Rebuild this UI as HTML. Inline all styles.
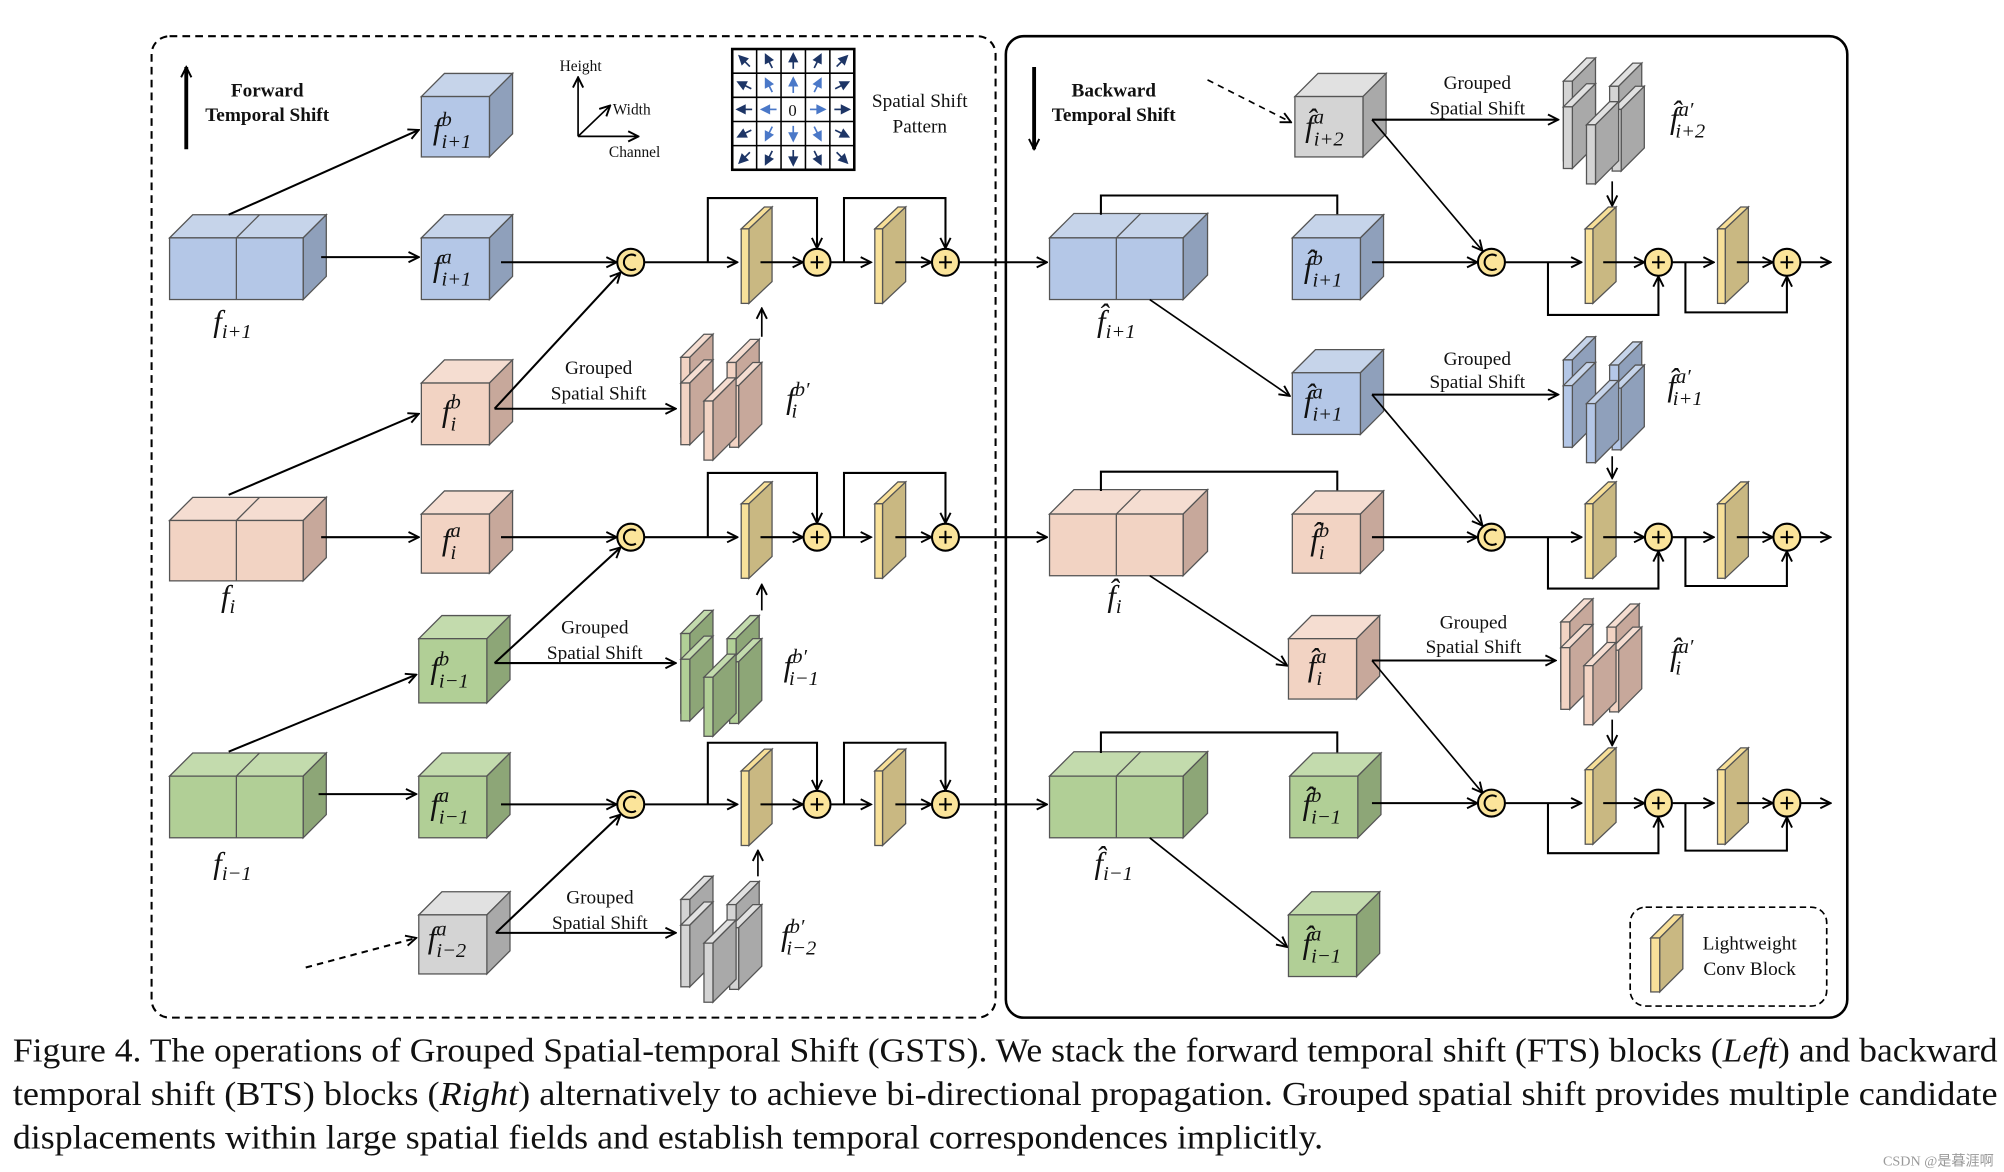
<!DOCTYPE html>
<html><head><meta charset="utf-8">
<style>
html,body{margin:0;padding:0;background:#fff;}
svg{display:block;}
text{font-family:"Liberation Serif",serif;fill:#111;}
.m{font-style:italic;font-size:24px;}
.m tspan{font-size:16px;}
.s{font-size:15px;}
.b{font-weight:bold;font-size:15px;}
.cap{font-size:26px;}
</style></head>
<body>
<svg id="svg" width="2004" height="1172" viewBox="0 0 1560 912" xmlns="http://www.w3.org/2000/svg">
<defs>
<marker id="ah" markerWidth="10" markerHeight="10" refX="9" refY="5" orient="auto" markerUnits="userSpaceOnUse">
<path d="M1,1 L9,5 L1,9" fill="none" stroke="#000" stroke-width="1.5"/>
</marker>
</defs>
<rect x="118" y="28" width="657" height="764" rx="14" fill="none" stroke="#000" stroke-width="1.6" stroke-dasharray="6,4"/>
<rect x="783" y="28" width="655" height="764" rx="14" fill="none" stroke="#000" stroke-width="2"/>
<rect x="1269" y="706" width="153" height="77" rx="12" fill="none" stroke="#000" stroke-width="1.3" stroke-dasharray="5,3"/>
<g id="shapes"></g>
<g id="labels">
<text class="b" x="208" y="75" text-anchor="middle">Forward</text>
<text class="b" x="208" y="94" text-anchor="middle">Temporal Shift</text>
<text class="b" x="867" y="75" text-anchor="middle">Backward</text>
<text class="b" x="867" y="94" text-anchor="middle">Temporal Shift</text>
<text x="452" y="55" font-size="12" text-anchor="middle">Height</text>
<text x="477" y="89" font-size="12">Width</text>
<text x="494" y="122" font-size="12" text-anchor="middle">Channel</text>
<text class="s" x="716" y="83" text-anchor="middle">Spatial Shift</text>
<text class="s" x="716" y="103" text-anchor="middle">Pattern</text>
<text class="s" x="466" y="291" text-anchor="middle">Grouped</text><text class="s" x="466" y="311" text-anchor="middle">Spatial Shift</text>
<text class="s" x="463" y="493" text-anchor="middle">Grouped</text><text class="s" x="463" y="513" text-anchor="middle">Spatial Shift</text>
<text class="s" x="467" y="703" text-anchor="middle">Grouped</text><text class="s" x="467" y="723" text-anchor="middle">Spatial Shift</text>
<text class="s" x="1150" y="69" text-anchor="middle">Grouped</text><text class="s" x="1150" y="89" text-anchor="middle">Spatial Shift</text>
<text class="s" x="1150" y="284" text-anchor="middle">Grouped</text><text class="s" x="1150" y="302" text-anchor="middle">Spatial Shift</text>
<text class="s" x="1147" y="489" text-anchor="middle">Grouped</text><text class="s" x="1147" y="508" text-anchor="middle">Spatial Shift</text>
<text class="s" x="1362" y="739" text-anchor="middle">Lightweight</text>
<text class="s" x="1362" y="759" text-anchor="middle">Conv Block</text>

<!-- math labels -->
<text class="m" x="337" y="108">f<tspan dy="-10">b</tspan><tspan dx="-8" dy="17">i+1</tspan></text>
<text class="m" x="337" y="215">f<tspan dy="-10">a</tspan><tspan dx="-8" dy="17">i+1</tspan></text>
<text class="m" x="344" y="328">f<tspan dy="-10">b</tspan><tspan dx="-8" dy="17">i</tspan></text>
<text class="m" x="344" y="428">f<tspan dy="-10">a</tspan><tspan dx="-8" dy="17">i</tspan></text>
<text class="m" x="335" y="528">f<tspan dy="-10">b</tspan><tspan dx="-8" dy="17">i−1</tspan></text>
<text class="m" x="335" y="634">f<tspan dy="-10">a</tspan><tspan dx="-8" dy="17">i−1</tspan></text>
<text class="m" x="333" y="738">f<tspan dy="-10">a</tspan><tspan dx="-8" dy="17">i−2</tspan></text>
<text class="m" x="166" y="258" font-size="25">f<tspan font-size="17" dy="5">i+1</tspan></text>
<text class="m" x="172" y="472" font-size="25">f<tspan font-size="17" dy="5">i</tspan></text>
<text class="m" x="166" y="680" font-size="25">f<tspan font-size="17" dy="5">i−1</tspan></text>
<text class="m" x="612" y="318">f<tspan dy="-10">b′</tspan><tspan dx="-14" dy="17">i</tspan></text>
<text class="m" x="610" y="526">f<tspan dy="-10">b′</tspan><tspan dx="-14" dy="17">i−1</tspan></text>
<text class="m" x="608" y="736">f<tspan dy="-10">b′</tspan><tspan dx="-14" dy="17">i−2</tspan></text>

<text class="m" x="1016" y="106">f̂<tspan dy="-10">a</tspan><tspan dx="-8" dy="17">i+2</tspan></text>
<text class="m" x="1015" y="216">f̂<tspan dy="-10">b</tspan><tspan dx="-8" dy="17">i+1</tspan></text>
<text class="m" x="1015" y="320">f̂<tspan dy="-10">a</tspan><tspan dx="-8" dy="17">i+1</tspan></text>
<text class="m" x="1020" y="428">f̂<tspan dy="-10">b</tspan><tspan dx="-8" dy="17">i</tspan></text>
<text class="m" x="1018" y="526">f̂<tspan dy="-10">a</tspan><tspan dx="-8" dy="17">i</tspan></text>
<text class="m" x="1014" y="634">f̂<tspan dy="-10">b</tspan><tspan dx="-8" dy="17">i−1</tspan></text>
<text class="m" x="1014" y="742">f̂<tspan dy="-10">a</tspan><tspan dx="-8" dy="17">i−1</tspan></text>
<text class="m" x="1300" y="100">f̂<tspan dy="-10">a′</tspan><tspan dx="-14" dy="17">i+2</tspan></text>
<text class="m" x="1298" y="308">f̂<tspan dy="-10">a′</tspan><tspan dx="-14" dy="17">i+1</tspan></text>
<text class="m" x="1300" y="518">f̂<tspan dy="-10">a′</tspan><tspan dx="-14" dy="17">i</tspan></text>
<text class="m" x="854" y="258" font-size="25">f̂<tspan font-size="17" dy="5">i+1</tspan></text>
<text class="m" x="862" y="472" font-size="25">f̂<tspan font-size="17" dy="5">i</tspan></text>
<text class="m" x="852" y="680" font-size="25">f̂<tspan font-size="17" dy="5">i−1</tspan></text>

<text x="617" y="90" font-size="13" text-anchor="middle" font-family="Liberation Sans,sans-serif">0</text>

<text class="cap" x="10" y="826" textLength="1545" lengthAdjust="spacingAndGlyphs">Figure 4. The operations of Grouped Spatial-temporal Shift (GSTS). We stack the forward temporal shift (FTS) blocks (<tspan font-style="italic">Left</tspan>) and backward</text>
<text class="cap" x="10" y="860" textLength="1545" lengthAdjust="spacingAndGlyphs">temporal shift (BTS) blocks (<tspan font-style="italic">Right</tspan>) alternatively to achieve bi-directional propagation. Grouped spatial shift provides multiple candidate</text>
<text class="cap" x="10" y="894" textLength="1020" lengthAdjust="spacingAndGlyphs">displacements within large spatial fields and establish temporal correspondences implicitly.</text>
<text x="1552" y="907" font-size="11" text-anchor="end" font-family="Liberation Sans,'Noto Sans CJK SC',sans-serif" style="fill:#999">CSDN @是暮涯啊</text>
</g>
</svg>
<script>
var NS="http://www.w3.org/2000/svg",G=document.getElementById("shapes");
function el(t,a){var e=document.createElementNS(NS,t);for(var k in a)e.setAttribute(k,a[k]);G.appendChild(e);return e;}
var C={b:["#b4c7e7","#c6d4ea","#8fa0bb"],p:["#f2d3c3","#f5ddd1","#c7a89b"],g:["#b1cf96","#c3dbad","#8da677"],y:["#d4d4d4","#e1e1e1","#a9a9a9"],c:["#f8e19a","#f7df98","#c9b882"]};
function poly(p,f){el("polygon",{points:p.map(function(q){return q.join(",")}).join(" "),fill:f,stroke:"#555","stroke-width":1});}
function cube(x,y,w,h,d,c,split){var k=C[c];
poly([[x,y],[x+d,y-d],[x+w+d,y-d],[x+w,y]],k[1]);
poly([[x+w,y],[x+w+d,y-d],[x+w+d,y+h-d],[x+w,y+h]],k[2]);
el("rect",{x:x,y:y,width:w,height:h,fill:k[0],stroke:"#555","stroke-width":1});
if(split){el("line",{x1:x+w/2,y1:y,x2:x+w/2,y2:y+h,stroke:"#555"});el("line",{x1:x+w/2,y1:y,x2:x+w/2+d,y2:y-d,stroke:"#555"});}}
function slab(x,y,h,c,fw,d){fw=fw||7;d=d||18;var k=C[c];
poly([[x,y],[x+d,y-d],[x+d+fw,y-d],[x+fw,y]],k[1]);
poly([[x+fw,y],[x+fw+d,y-d],[x+fw+d,y+h-d],[x+fw,y+h]],k[2]);
el("rect",{x:x,y:y,width:fw,height:h,fill:k[0],stroke:"#555","stroke-width":1});}
function conv(x,y){
poly([[x,y],[x+18,y-17],[x+24,y-17],[x+6,y]],"#f7df98");
poly([[x+6,y],[x+24,y-17],[x+24,y+41],[x+6,y+58]],"#c9b882");
el("rect",{x:x,y:y,width:6,height:58,fill:"#f8e19a",stroke:"#555","stroke-width":1});}
function stack(sx,sy,c){slab(sx+2,sy+18,62,c);slab(sx+38,sy+22,56,c);slab(sx+2,sy+38,48,c);slab(sx+40,sy+40,48,c);slab(sx+20,sy+52,46,c);}
function L(x1,y1,x2,y2,arr,dash,w){var a={x1:x1,y1:y1,x2:x2,y2:y2,stroke:"#000","stroke-width":w||1.6};if(arr)a["marker-end"]="url(#ah)";if(dash)a["stroke-dasharray"]="5,4";el("line",a);}
function P(pts,arr){var a={points:pts.map(function(q){return q.join(",")}).join(" "),fill:"none",stroke:"#000","stroke-width":1.6};if(arr)a["marker-end"]="url(#ah)";el("polyline",a);}
function circ(x,y,t){el("circle",{cx:x,cy:y,r:10.5,fill:"#fbe49a",stroke:"#000","stroke-width":1.6});
if(t=="c"){el("path",{d:"M"+(x+4)+","+(y-5)+" A6,6 0 1 0 "+(x+4)+","+(y+5),fill:"none",stroke:"#000","stroke-width":1.6});}
else{L(x-5,y,x+5,y,0,0,1.5);L(x,y-5,x,y+5,0,0,1.5);}}
function leftRow(cy,top){
L(390,cy,480,cy,1);circ(491,cy,"c");
L(502,cy,574,cy,1);P([[551,cy],[551,top],[636,top],[636,cy-11]],1);
conv(577,cy-26);L(592,cy,625,cy,1);circ(636,cy,"p");
L(647,cy,678,cy,1);P([[657,cy],[657,top],[736,top],[736,cy-11]],1);
conv(681,cy-26);L(697,cy,725,cy,1);circ(736,cy,"p");
L(747,cy,815,cy,1);}
function rightRow(cy,bot){
L(1068,cy,1150,cy,1);circ(1161,cy,"c");
L(1172,cy,1231,cy,1);P([[1205,cy],[1205,bot],[1291,bot],[1291,cy+11]],1);
conv(1234,cy-26);L(1248,cy,1280,cy,1);circ(1291,cy,"p");
L(1302,cy,1334,cy,1);P([[1312,cy],[1312,bot-2],[1391,bot-2],[1391,cy+11]],1);
conv(1337,cy-26);L(1352,cy,1380,cy,1);circ(1391,cy,"p");
L(1402,cy,1425,cy,1);}

L(145,116,145,52,1,0,3);
L(450,106,450,60,1,0,1.3);L(450,106,475,82,1,0,1.3);L(450,106,497,106,1,0,1.3);
el("rect",{x:570,y:38,width:95,height:94,fill:"#fff",stroke:"#000","stroke-width":2});
for(var i=1;i<5;i++){L(570+i*19,38,570+i*19,132,0,0,1.2);L(570,38+i*18.8,665,38+i*18.8,0,0,1.2);}
var dirs=[[-1,-1],[-0.5,-1],[0,-1],[0.5,-1],[1,-1],[-1,-0.5],[-0.5,-1],[0,-1],[0.5,-1],[1,-0.5],[-1,0],[-1,0],null,[1,0],[1,0],[-1,0.5],[-0.5,1],[0,1],[0.5,1],[1,0.5],[-1,1],[-0.5,1],[0,1],[0.5,1],[1,1]];
for(var r=0;r<5;r++)for(var c=0;c<5;c++){var dd=dirs[r*5+c];if(!dd)continue;var cx=579.5+c*19,cy=47.4+r*18.8;var inner=(r>0&&r<4&&c>0&&c<4);var col=inner?"#4a78c8":"#1d3566";
var n=Math.hypot(dd[0],dd[1]),ux=dd[0]/n,uy=dd[1]/n;var tx=cx+ux*7,ty=cy+uy*7,bx=cx-ux*6,by=cy-uy*6;
el("line",{x1:bx,y1:by,x2:cx,y2:cy,stroke:col,"stroke-width":1.3});
var px=-uy,py=ux;el("polygon",{points:[tx,ty,cx-ux*1+px*4,cy-uy*1+py*4,cx-ux*1-px*4,cy-uy*1-py*4].join(","),fill:col});}

// LEFT
cube(132,185,104,48,18,"b",1);cube(328,75,53,47,18,"b");cube(328,185,53,48,18,"b");
L(178,167,326,101,1);L(250,200,326,200,1);
leftRow(204,154);
cube(328,298,53,48,18,"p");L(178,385,326,322,1);
stack(528,260,"p");L(385,318,526,318,1);L(385,318,483,212,1);L(593,262,593,240,1,0,1.3);
cube(132,405,104,47,18,"p",1);cube(328,400,53,46,18,"p");L(250,418,326,418,1);
leftRow(418,368);
cube(326,497,53,50,18,"g");L(178,585,324,525,1);
stack(528,475,"g");L(385,516,526,516,1);L(385,516,483,426,1);L(593,475,593,455,1,0,1.3);
cube(132,604,104,48,18,"g",1);cube(326,604,53,48,18,"g");L(248,618,324,618,1);
leftRow(626,578);
cube(326,712,53,46,18,"y");L(238,753,324,730,1,1);
stack(528,682,"y");L(386,726,526,726,1);L(386,726,483,634,1);L(590,682,590,662,1,0,1.3);

// RIGHT
L(805,52,805,116,1,0,3);
cube(1008,75,53,47,18,"y");L(940,62,1005,95,1,1,1.3);
stack(1215,45,"y");L(1068,93,1213,93,1);L(1068,93,1154,195,1,0,1.3);L(1255,141,1255,160,1,0,1.3);
cube(817,185,104,48,19,"b",1);P([[857,167],[857,152],[1041,152],[1041,178]],1);
cube(1006,185,53,48,18,"b");
rightRow(204,245);
L(895,233,1004,308,1,0,1.3);cube(1006,290,53,48,18,"b");
stack(1215,262,"b");L(1068,307,1213,307,1);L(1068,307,1154,409,1,0,1.3);L(1255,355,1255,372,1,0,1.3);
cube(817,400,104,48,19,"p",1);P([[857,382],[857,367],[1041,367],[1041,392]],1);
cube(1006,400,53,46,18,"p");
rightRow(418,458);
L(895,448,1002,518,1,0,1.3);cube(1003,497,53,47,18,"p");
stack(1213,466,"p");L(1068,514,1211,514,1);L(1068,514,1154,617,1,0,1.3);L(1255,560,1255,580,1,0,1.3);
cube(817,604,104,48,19,"g",1);P([[857,586],[857,570],[1041,570],[1041,597]],1);
cube(1004,604,53,48,18,"g");
rightRow(625,664);
L(895,652,1002,737,1,0,1.3);cube(1003,712,53,48,18,"g");
slab(1285,730,42,"c",7,18);
</script>
</body></html>
